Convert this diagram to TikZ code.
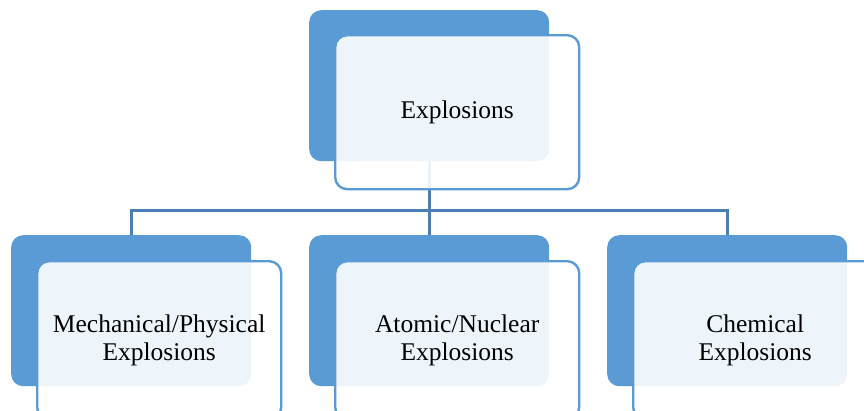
\documentclass[tikz,border=0pt]{standalone}
\usepackage{fontspec}
\setmainfont{Liberation Serif}
\definecolor{bk}{HTML}{5B9BD5}
\definecolor{ln}{HTML}{4A7EB4}
\begin{document}
\begin{tikzpicture}[x=1pt,y=-1pt,
  back/.style={fill=bk, draw=none, rounded corners=12pt, minimum width=240pt, minimum height=151pt, inner sep=0pt, anchor=north west},
  front/.style={fill=white, fill opacity=0.9, text opacity=1, draw=bk, line width=2.4pt, rounded corners=12pt, minimum width=244pt, minimum height=154pt, inner sep=0pt, anchor=north west, align=center, font=\fontsize{25.5}{28}\selectfont, text=black},
  conn/.style={draw=ln, line width=3pt}]
\useasboundingbox (0,0) rectangle (864,410);
% back boxes
\node[back] (tb) at (309,10) {};
\node[back] (lb) at (11,235) {};
\node[back] (mb) at (309,235) {};
\node[back] (rb) at (607,235) {};
% connectors (behind front boxes)
\draw[conn] (tb.south) -- (mb.north);
\draw[conn] (lb.north) -- ++(0,-25) -| (rb.north);
% front boxes
\node[front] (tf) at (334,34) {Explosions};
\node[front, minimum height=158pt] (lf) at (36,260) {Mechanical/Physical\\Explosions};
\node[front, minimum height=158pt] (mf) at (334,260) {Atomic/Nuclear\\Explosions};
\node[front, minimum height=158pt] (rf) at (632,260) {Chemical\\Explosions};
\end{tikzpicture}
\end{document}
